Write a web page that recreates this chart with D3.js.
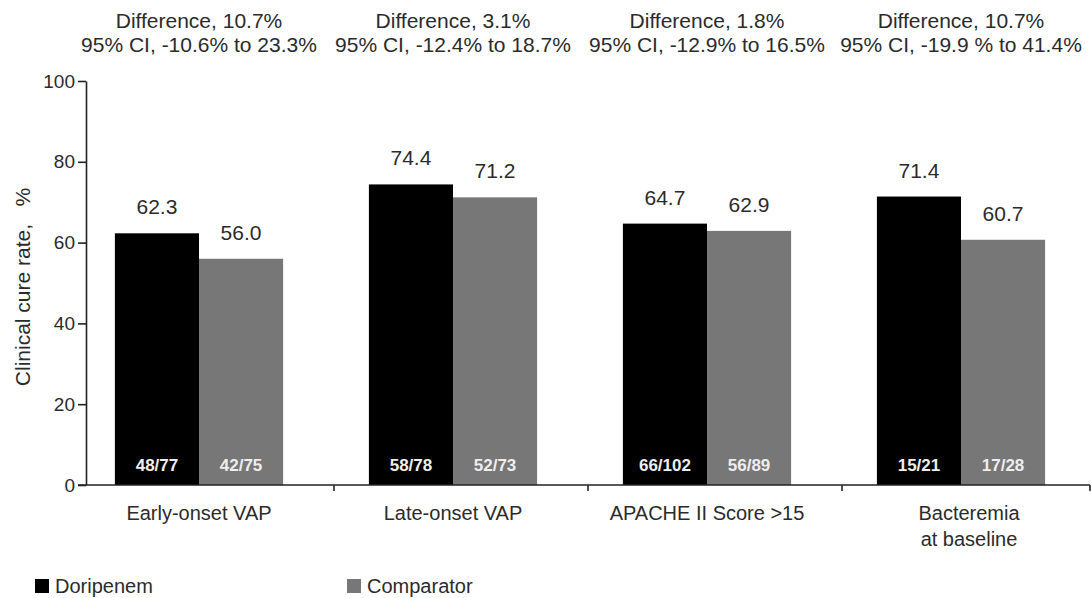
<!DOCTYPE html>
<html>
<head>
<meta charset="utf-8">
<script src="https://cdn.jsdelivr.net/npm/d3@7"></script>
<style>
  body { margin: 0; background: #fff; }
  text { font-family: "Liberation Sans", Arial, sans-serif; }
</style>
</head>
<body>
<div id="chart"></div>
<script>
// chart values
const categories = ['Early-onset VAP', 'Late-onset VAP', 'APACHE II Score >15', 'Bacteremia at baseline']
const categoryLines = [['Early-onset VAP'], ['Late-onset VAP'], ['APACHE II Score >15'], ['Bacteremia', 'at baseline']]
const seriesNames = ['Doripenem', 'Comparator']
const doripenem = [62.3, 74.4, 64.7, 71.4]
const comparator = [56.0, 71.2, 62.9, 60.7]
const doripenemN = ['48/77', '58/78', '66/102', '15/21']
const comparatorN = ['42/75', '52/73', '56/89', '17/28']
const differences = ['10.7%', '3.1%', '1.8%', '10.7%']
const confIntervals = ['-10.6% to 23.3%', '-12.4% to 18.7%', '-12.9% to 16.5%', '-19.9 % to 41.4%']
const yTicks = [0, 20, 40, 60, 80, 100]

const textColor = '#2b2b2b',
    colors = { Doripenem: '#000000', Comparator: '#777777' };

const width = 1091, height = 598;

const svg = d3.select('#chart')
    .append('svg')
    .attr('width', width)
    .attr('height', height)

// build rows for the bars
const rows = categories.map((c, i) => ({
    cat: c,
    values: [
        { key: 'Doripenem', value: doripenem[i], n: doripenemN[i] },
        { key: 'Comparator', value: comparator[i], n: comparatorN[i] }
    ]
}))

// scales
const x0 = d3.scaleBand()
    .domain(categories)
    .range([72, 1088])

const x1 = d3.scaleBand()
    .domain(seriesNames)
    .range([0, x0.bandwidth()])
    .paddingInner(0)
    .paddingOuter(0.51)

const y = d3.scaleLinear()
    .domain([0, 100])
    .range([485, 81])

const axisX = 86

// y axis
const yAxis = svg.append('g')
    .attr('transform', 'translate(' + axisX + ',0)')
    .call(d3.axisLeft(y).tickValues(yTicks).tickSize(8).tickSizeOuter(0).tickPadding(3))

yAxis.select('.domain').attr('stroke', '#222').attr('stroke-width', 1.6)
yAxis.selectAll('.tick line').attr('stroke', '#222').attr('stroke-width', 1.6)
yAxis.selectAll('.tick text')
    .style('font-size', '19px')
    .style('font-family', '"Liberation Sans", Arial, sans-serif')
    .attr('fill', textColor)

// y axis title
svg.append('text')
    .attr('transform', 'translate(30,' + ((y(0) + y(100)) / 2 + 4) + ') rotate(-90)')
    .attr('text-anchor', 'middle')
    .style('font-size', '21px')
    .style('white-space', 'pre')
    .attr('fill', textColor)
    .text('Clinical cure rate,   %')

// bars
const groups = svg.selectAll('.group')
    .data(rows)
    .enter()
    .append('g')
    .attr('class', 'group')
    .attr('transform', d => 'translate(' + x0(d.cat) + ',0)')

groups.selectAll('rect')
    .data(d => d.values)
    .enter()
    .append('rect')
    .attr('x', d => x1(d.key))
    .attr('y', d => y(d.value))
    .attr('width', x1.bandwidth())
    .attr('height', d => y(0) - y(d.value))
    .attr('fill', d => colors[d.key])

// value labels above the bars
groups.selectAll('.val')
    .data(d => d.values)
    .enter()
    .append('text')
    .attr('class', 'val')
    .attr('x', d => x1(d.key) + x1.bandwidth() / 2)
    .attr('y', d => y(d.value) - 19)
    .attr('text-anchor', 'middle')
    .style('font-size', '21px')
    .attr('fill', textColor)
    .text(d => d.value.toFixed(1))

// n labels inside the bars
groups.selectAll('.n')
    .data(d => d.values)
    .enter()
    .append('text')
    .attr('class', 'n')
    .attr('x', d => x1(d.key) + x1.bandwidth() / 2)
    .attr('y', 471)
    .attr('text-anchor', 'middle')
    .style('font-size', '17px')
    .style('font-weight', 'bold')
    .attr('fill', '#eeeeee')
    .text(d => d.n)

// x axis line and ticks
const xAxis = svg.append('g')
xAxis.append('line')
    .attr('x1', axisX - 8)
    .attr('x2', 1090)
    .attr('y1', y(0))
    .attr('y2', y(0))
    .attr('stroke', '#222')
    .attr('stroke-width', 1.6)

const tickXs = categories.slice(1).map(c => x0(c) + 8).concat([1090])
xAxis.selectAll('.xtick')
    .data(tickXs)
    .enter()
    .append('line')
    .attr('x1', d => d)
    .attr('x2', d => d)
    .attr('y1', y(0))
    .attr('y2', y(0) + 6)
    .attr('stroke', '#222')
    .attr('stroke-width', 1.6)

// category labels
const catLabels = svg.selectAll('.cat')
    .data(categories)
    .enter()
    .append('text')
    .attr('class', 'cat')
    .attr('text-anchor', 'middle')
    .style('font-size', '20px')
    .attr('fill', textColor)

catLabels.each(function (d, i) {
    const cx = x0(d) + x0.bandwidth() / 2 + (i === 3 ? 8 : 0)
    d3.select(this).selectAll('tspan')
        .data(categoryLines[i])
        .enter()
        .append('tspan')
        .attr('x', cx)
        .attr('y', (t, j) => 520 + j * 26)
        .text(t => t)
})

// difference titles on top
const titles = svg.selectAll('.title')
    .data(categories)
    .enter()
    .append('text')
    .attr('class', 'title')
    .attr('text-anchor', 'middle')
    .style('font-size', '21px')
    .style('white-space', 'pre')
    .attr('fill', textColor)

titles.append('tspan')
    .attr('x', d => x0(d) + x0.bandwidth() / 2)
    .attr('y', 28)
    .text((d, i) => 'Difference, ' + differences[i])

titles.append('tspan')
    .attr('x', d => x0(d) + x0.bandwidth() / 2)
    .attr('y', 52)
    .text((d, i) => '95% CI, ' + confIntervals[i])

// legend
const legendX = [35, 347]
const legend = svg.selectAll('.legend')
    .data(seriesNames)
    .enter()
    .append('g')
    .attr('class', 'legend')
    .attr('transform', (d, i) => 'translate(' + legendX[i] + ',579)')

legend.append('rect')
    .attr('width', 14)
    .attr('height', 14)
    .attr('fill', d => colors[d])

legend.append('text')
    .attr('x', 20)
    .attr('y', 14)
    .style('font-size', '20px')
    .attr('fill', textColor)
    .text(d => d)
</script>
</body>
</html>
